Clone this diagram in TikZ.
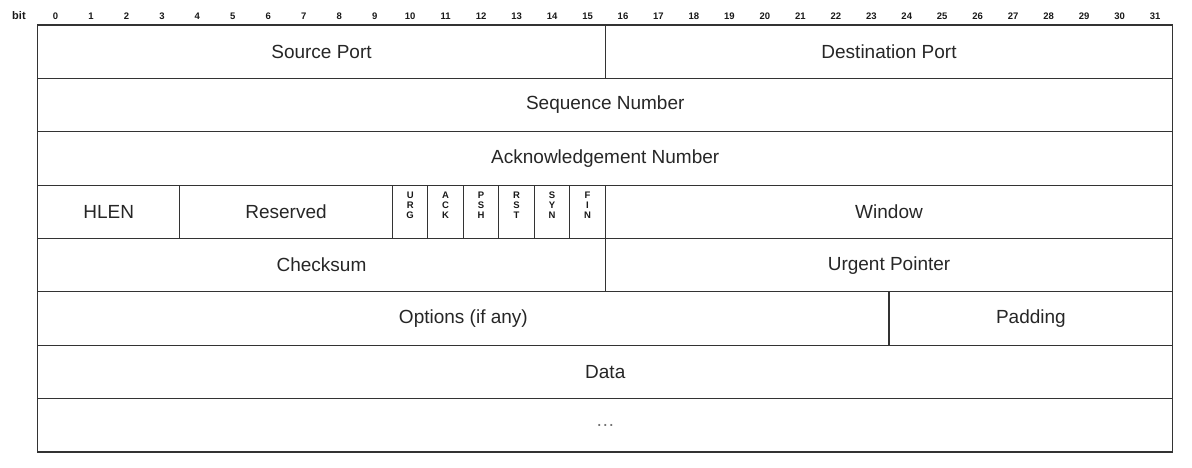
\documentclass[tikz,border=0pt]{standalone}
\usepackage{fontspec}
\setmainfont{Liberation Sans}
\usetikzlibrary{positioning}

\newcommand{\tcpfield}[5]{%
    \node[field, minimum width=#3*35.47pt] (#1) at ({#2+#3/2}, {#4+0.5}) {#5};}

\begin{document}
\begin{tikzpicture}[
    x=35.47pt, y=-53.375pt,
    field/.style={draw=black!80, line width=1.1pt, minimum height=53.375pt, inner sep=0pt,
        text=black!85, font=\fontsize{19}{21}\selectfont},
    flagtext/.style={align=center, inner sep=0pt, text=black!90,
        font=\fontsize{9.5}{10.2}\selectfont\bfseries},
    bitnum/.style={inner sep=0pt, text=black!90, font=\fontsize{9.5}{10}\selectfont\bfseries}
]

    \useasboundingbox (-37.75pt, 25pt) rectangle (1154.25pt, -442pt);

    % Bit numbers
    \node[bitnum, font=\fontsize{11}{12}\selectfont\bfseries] (bitlbl) at (-0.53, -0.18) {bit};
    \foreach \i in {0,...,31}
        \node[bitnum] (b\i) at (\i+0.5, -0.17) {\i};

    % Rows
    \tcpfield{src}{0}{16}{0}{Source Port}
    \tcpfield{dst}{16}{16}{0}{Destination Port}
    \tcpfield{seq}{0}{32}{1}{Sequence Number}
    \tcpfield{ack}{0}{32}{2}{Acknowledgement Number}
    \tcpfield{hlen}{0}{4}{3}{HLEN}
    \tcpfield{rsv}{4}{6}{3}{Reserved}
    \tcpfield{win}{16}{16}{3}{Window}
    \tcpfield{chk}{0}{16}{4}{Checksum}
    \tcpfield{urgp}{16}{16}{4}{Urgent Pointer}
    \tcpfield{opt}{0}{24}{5}{Options (if any)}
    \tcpfield{pad}{24}{8}{5}{Padding}
    \tcpfield{data}{0}{32}{6}{Data}
    \node[field, minimum width=32*35.47pt, text=black!55] (more) at (16, 7.5) {\ldots};

    % Flags
    \foreach \name/\txt [count=\k from 10] in {urg/U\\R\\G, ackf/A\\C\\K, psh/P\\S\\H,
            rst/R\\S\\T, syn/S\\Y\\N, fin/F\\I\\N} {
        \tcpfield{\name}{\k}{1}{3}{}
        \node[flagtext] (\name t) at ([yshift=6.5pt]\name.center) {\txt};
    }

\end{tikzpicture}
\end{document}
